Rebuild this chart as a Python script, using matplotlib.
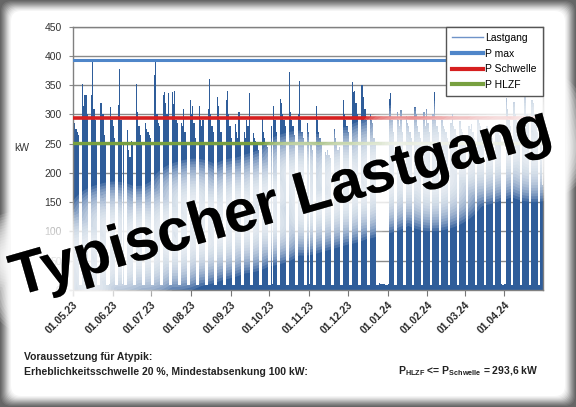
import matplotlib
matplotlib.use('Agg')
import matplotlib.pyplot as plt
import matplotlib.patheffects as pe
from matplotlib.patches import FancyBboxPatch
from matplotlib.lines import Line2D

plt.rcParams['font.family'] = ['Liberation Sans', 'DejaVu Sans']
plt.rcParams['mathtext.fontset'] = 'custom'
plt.rcParams['mathtext.rm'] = 'Liberation Sans:bold'
plt.rcParams['mathtext.it'] = 'Liberation Sans:bold'
plt.rcParams['mathtext.bf'] = 'Liberation Sans:bold'

# ---------------- data ----------------
# daily peak load (kW) of the five weekdays of each week, starting Mon 01.05.23
weekday_peaks_kw = [
    [262, 285, 276, 270, 265], [352, 315, 333, 333, 300], [333, 390, 310, 290, 250],
    [320, 320, 300, 265, 250], [10, 313, 290, 280, 260], [316, 378, 290, 10, 250],
    [273, 240, 228, 255, 250], [352, 305, 280, 265, 250], [285, 275, 270, 265, 260],
    [368, 391, 300, 285, 280], [333, 338, 320, 300, 336], [338, 318, 340, 290, 285],
    [285, 280, 310, 270, 250], [325, 300, 314, 285, 260], [314, 290, 280, 290, 250],
    [310, 360, 300, 280, 270], [330, 314, 290, 270, 250], [325, 340, 300, 280, 260],
    [283, 270, 260, 304, 250], [270, 260, 290, 280, 337], [268, 260, 255, 250, 240],
    [292, 270, 260, 250, 245], [280, 10, 315, 290, 270], [327, 320, 300, 290, 280],
    [373, 305, 290, 280, 265], [301, 357, 290, 270, 260], [285, 270, 10, 250, 240],
    [315, 290, 270, 260, 250], [235, 230, 240, 230, 225], [275, 260, 250, 240, 245],
    [325, 300, 290, 280, 270], [356, 338, 340, 320, 300], [350, 350, 330, 310, 290],
    [300, 290, 285, 260, 250], [12, 10, 10, 10, 10], [10, 327, 337, 290, 270],
    [305, 290, 280, 308, 270], [298, 285, 280, 270, 260], [313, 300, 280, 270, 260],
    [305, 280, 310, 285, 270], [300, 338, 290, 280, 270], [290, 280, 275, 270, 260],
    [285, 300, 280, 275, 265], [288, 275, 270, 265, 260], [280, 275, 283, 270, 260],
    [296, 285, 280, 270, 265], [280, 275, 270, 265, 260], [280, 275, 270, 265, 10],
    [10, 328, 310, 290, 280], [322, 300, 290, 280, 270], [290, 340, 338, 300, 285],
    [325, 320, 300, 290, 270], [300, 180],
]
weekend_kw = [8, 8]
n_days = 366
p_max = 393.5
p_schwelle = 293.6
p_hlzf = 251.0

month_ticks = [0, 31, 61, 92, 123, 153, 184, 214, 245, 276, 305, 336]
month_labels = ['01.05.23', '01.06.23', '01.07.23', '01.08.23', '01.09.23', '01.10.23',
                '01.11.23', '01.12.23', '01.01.24', '01.02.24', '01.03.24', '01.04.24']

# assemble daily series (Mon..Fri from lists, Sat/Sun weekend level)
daily_kw = []
for wk in weekday_peaks_kw:
    daily_kw.extend(wk)
    daily_kw.extend(weekend_kw)
daily_kw = daily_kw[:n_days]
days = [d + 0.5 for d in range(len(daily_kw))]

# ---------------- figure ----------------
W, H = 5.76, 4.07
fig = plt.figure(figsize=(W, H), dpi=100)
fig.patch.set_facecolor('#666666')
shades = ['#747474', '#838383', '#939393', '#a5a5a5', '#b8b8b8', '#cbcbcb',
          '#dcdcdc', '#eaeaea', '#f5f5f5', '#ffffff']
for i, c in enumerate(shades):
    inset = (i + 1) * 1.1 / 100
    p = FancyBboxPatch((inset, inset), W - 2 * inset, H - 2 * inset,
                       boxstyle='round,pad=0,rounding_size=0.10',
                       transform=fig.dpi_scale_trans, facecolor=c,
                       edgecolor='none', zorder=-20 + i)
    fig.add_artist(p)

axpos = [0.1262, 0.2875, 0.8165, 0.6469]
ax = fig.add_axes(axpos)
ax.set_facecolor('white')
ax.bar(days, daily_kw, width=1.0, color='#2f5d9a', linewidth=0, zorder=2)
ax.axhline(p_max, color='#4f86c9', lw=2.2, zorder=3)
ax.axhline(p_schwelle, color='#d61f1f', lw=2.6, zorder=3)
ax.axhline(p_hlzf, color='#78a040', lw=2.4, zorder=3)

ax.set_xlim(0, n_days)
ax.set_ylim(0, 450)
ax.set_yticks(range(0, 451, 50))
ax.yaxis.grid(True, color='#8a8a8a', lw=1.0, zorder=0)
ax.set_axisbelow(True)
ax.set_xticks(month_ticks)
ax.tick_params(axis='x', length=4, color='#777777', labelbottom=False)
ax.tick_params(axis='y', length=3, color='#8a8a8a', pad=5, labelsize=7.5,
               labelcolor='#333333')
for s in ax.spines.values():
    s.set_color('#808080')
    s.set_linewidth(1.0)

# overlay axes carrying only the date labels (kept above the title glow)
axl = fig.add_axes(axpos, zorder=25)
axl.patch.set_visible(False)
for s in axl.spines.values():
    s.set_visible(False)
axl.set_xlim(0, n_days)
axl.set_yticks([])
axl.set_xticks(month_ticks)
axl.set_xticklabels(month_labels, rotation=45, ha='right', rotation_mode='anchor',
                    fontsize=7.5, fontweight='bold', color='#2a2a2a')
axl.tick_params(axis='x', length=4, width=0, pad=3)

handles = [Line2D([], [], color='#6f93c8', lw=1.0),
           Line2D([], [], color='#4f86c9', lw=3.0),
           Line2D([], [], color='#d61f1f', lw=3.0),
           Line2D([], [], color='#78a040', lw=3.0)]
leg = fig.legend(handles, ['Lastgang', 'P max', 'P Schwelle', 'P HLZF'],
                 loc='upper right', bbox_to_anchor=(1, 1),
                 bbox_transform=ax.transAxes, borderaxespad=0,
                 fancybox=False, edgecolor='#555555', framealpha=1,
                 fontsize=7.5, handlelength=3.0, handletextpad=0.2,
                 labelspacing=0.55, borderpad=0.6)
leg.get_frame().set_linewidth(1.0)
leg.set_zorder(30)

fig.text(22 / 576, 1 - 148 / 407, 'kW', fontsize=7.5, ha='center', va='center',
         color='#333333')

fig.text(24 / 576, 1 - 356.7 / 407, 'Voraussetzung für Atypik:', fontsize=7.5,
         fontweight='bold', va='center', color='#222222')
fig.text(24 / 576, 1 - 371.7 / 407,
         'Erheblichkeitsschwelle 20 %, Mindestabsenkung 100 kW:', fontsize=7.5,
         fontweight='bold', va='center', color='#222222')
fig.text(538 / 576, 1 - 371.7 / 407,
         r'P$_{\mathrm{HLZF}}$ <= P$_{\mathrm{Schwelle}}$ = 293,6 kW', fontsize=7.5,
         fontweight='bold', va='center', ha='right', color='#222222')

glow = [pe.Stroke(linewidth=w, foreground='white', alpha=0.14, joinstyle='round',
                  capstyle='round') for w in range(60, 2, -4)]
glow.append(pe.Normal())
fig.text(286 / 576, 1 - 219 / 407, 'Typischer Lastgang', fontsize=43,
         fontweight='bold', rotation=16, rotation_mode='anchor', ha='center',
         va='baseline', color='black', zorder=20, path_effects=glow)

fig.savefig('out.png', dpi=100, facecolor=fig.get_facecolor())
